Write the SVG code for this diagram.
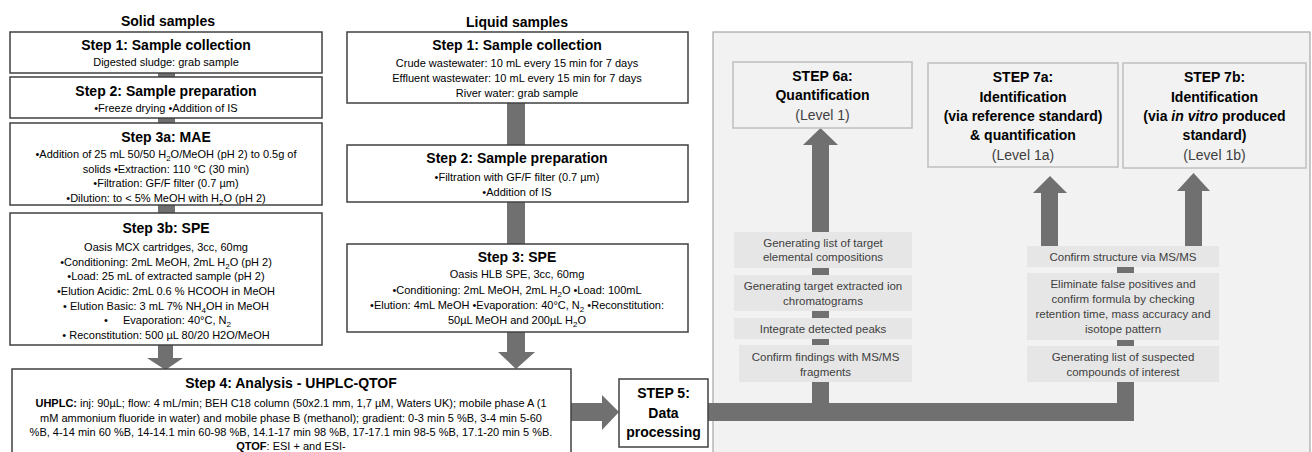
<svg xmlns="http://www.w3.org/2000/svg" width="1312" height="452" viewBox="0 0 1312 452">
<style>
.box{fill:#fff;stroke:#404040;stroke-width:1.5}
.t{font-family:'Liberation Sans',Arial,sans-serif;text-anchor:middle;fill:#000}
.s{text-anchor:start}
.h{font-size:14px;font-weight:bold}
.b{font-size:11px}
.pbox{fill:#f2f2f2;stroke:#bfbfbf;stroke-width:1.5}
.lbox{fill:#e6e6e6}
.lt{font-size:11.5px;fill:#404040}
.lv{font-size:14px;fill:#404040}
.conn{fill:#707070}
</style>
<rect width="1312" height="452" fill="#fff"/>
<g id="panel">
<rect x="713" y="32" width="597" height="440" fill="#f2f2f2" stroke="#a6a6a6" stroke-width="1.2"/>
</g>
<g id="headings">
<text class="t h" x="168" y="26">Solid samples</text>
<text class="t h" x="517" y="27">Liquid samples</text>
</g>
<g id="connectors">
<rect class="conn" x="158" y="73" width="17" height="4"/>
<rect class="conn" x="158" y="118" width="17" height="5"/>
<rect class="conn" x="158" y="205" width="17" height="8"/>
<polygon class="conn" points="158,345 173,345 173,358 183,358 165.5,370 147,358 158,358"/>
<rect class="conn" x="507" y="103" width="18" height="42"/>
<rect class="conn" x="507" y="202" width="18" height="42"/>
<polygon class="conn" points="507,332 525,332 525,352 535,352 516,369 498,352 507,352"/>
<polygon class="conn" points="571,403 602,403 602,395 619,412 602,430 602,421 571,421"/>
<polygon class="conn" points="708,403 1117,403 1117,382 1134,382 1134,421 708,421"/>
<rect class="conn" x="812" y="145" width="17" height="260"/>
<polygon class="conn" points="803,145 820.5,128 838,145"/>
<rect class="conn" x="1041" y="192" width="17" height="56"/>
<polygon class="conn" points="1033,193 1050,176 1067,193"/>
<rect class="conn" x="1185" y="190" width="17" height="58"/>
<polygon class="conn" points="1177,191 1193.5,173 1210,191"/>
<rect class="conn" x="1117" y="265" width="17" height="120"/>
</g>
<g id="solid-step1">
<rect class="box" x="10" y="32" width="312" height="41"/>
<text class="t h" x="166" y="50">Step 1: Sample collection</text>
<text class="t b" x="166" y="66">Digested sludge: grab sample</text>
</g>
<g id="solid-step2">
<rect class="box" x="10" y="77" width="312" height="41"/>
<text class="t h" x="166" y="96">Step 2: Sample preparation</text>
<text class="t b" x="166" y="112">•Freeze drying •Addition of IS</text>
</g>
<g id="solid-step3a">
<rect class="box" x="10" y="123" width="312" height="82"/>
<text class="t h" x="166" y="142">Step 3a: MAE</text>
<text class="t b" x="166" y="158">•Addition of 25 mL 50/50 H<tspan font-size="8" dy="3">2</tspan><tspan dy="-3">O/MeOH (pH 2) to 0.5g of</tspan></text>
<text class="t b" x="166" y="173">solids •Extraction: 110 °C (30 min)</text>
<text class="t b" x="166" y="187">•Filtration: GF/F filter (0.7 µm)</text>
<text class="t b" x="166" y="202">•Dilution: to &lt; 5% MeOH with H<tspan font-size="8" dy="3">2</tspan><tspan dy="-3">O (pH 2)</tspan></text>
</g>
<g id="solid-step3b">
<rect class="box" x="10" y="213" width="312" height="132"/>
<text class="t h" x="166" y="233">Step 3b: SPE</text>
<text class="t b" x="166" y="251">Oasis  MCX cartridges, 3cc, 60mg</text>
<text class="t b" x="166" y="266">•Conditioning: 2mL MeOH, 2mL H<tspan font-size="8" dy="3">2</tspan><tspan dy="-3">O (pH 2)</tspan></text>
<text class="t b" x="166" y="280">•Load: 25 mL of extracted sample (pH 2)</text>
<text class="t b" x="166" y="295">•Elution Acidic: 2mL 0.6 % HCOOH in MeOH</text>
<text class="t b" x="166" y="310">• Elution Basic: 3 mL 7% NH<tspan font-size="8" dy="3">4</tspan><tspan dy="-3">OH in MeOH</tspan></text>
<text class="t b s" x="104" y="324">•</text>
<text class="t b s" x="123" y="324">Evaporation: 40°C, N<tspan font-size="8" dy="3">2</tspan></text>
<text class="t b" x="166" y="339">• Reconstitution: 500 µL 80/20 H2O/MeOH</text>
</g>
<g id="liquid-step1">
<rect class="box" x="347" y="32" width="341" height="71"/>
<text class="t h" x="517" y="50">Step 1: Sample collection</text>
<text class="t b" x="517" y="67">Crude wastewater: 10 mL every 15 min for 7 days</text>
<text class="t b" x="517" y="82">Effluent wastewater: 10 mL every 15 min for 7 days</text>
<text class="t b" x="517" y="97">River water: grab sample</text>
</g>
<g id="liquid-step2">
<rect class="box" x="347" y="145" width="341" height="57"/>
<text class="t h" x="517" y="163">Step 2: Sample preparation</text>
<text class="t b" x="517" y="181">•Filtration with GF/F filter (0.7 µm)</text>
<text class="t b" x="517" y="196">•Addition of IS</text>
</g>
<g id="liquid-step3">
<rect class="box" x="347" y="244" width="341" height="88"/>
<text class="t h" x="517" y="262">Step 3: SPE</text>
<text class="t b" x="517" y="278">Oasis HLB SPE, 3cc, 60mg</text>
<text class="t b" x="517" y="294">•Conditioning: 2mL MeOH, 2mL H<tspan font-size="8" dy="3">2</tspan><tspan dy="-3">O •Load: 100mL</tspan></text>
<text class="t b" x="517" y="309">•Elution: 4mL MeOH •Evaporation: 40°C, N<tspan font-size="8" dy="3">2</tspan><tspan dy="-3"> •Reconstitution:</tspan></text>
<text class="t b" x="517" y="324">50µL MeOH and 200µL H<tspan font-size="8" dy="3">2</tspan><tspan dy="-3">O</tspan></text>
</g>
<g id="step4">
<rect class="box" x="12" y="369" width="559" height="95"/>
<text class="t h" x="291" y="388">Step 4: Analysis - UHPLC-QTOF</text>
<text class="t b" x="291" y="407"><tspan font-weight="bold">UHPLC:</tspan> inj: 90µL; flow: 4 mL/min; BEH C18 column (50x2.1 mm, 1,7 µM, Waters UK); mobile phase A (1</text>
<text class="t b" x="291" y="422">mM ammonium fluoride in water) and mobile phase B (methanol); gradient: 0-3 min 5 %B, 3-4 min 5-60</text>
<text class="t b" x="291" y="436">%B, 4-14 min 60 %B, 14-14.1 min 60-98 %B, 14.1-17 min 98 %B, 17-17.1 min 98-5 %B, 17.1-20 min 5 %B.</text>
<text class="t b" x="291" y="450"><tspan font-weight="bold">QTOF</tspan>: ESI + and ESI-</text>
</g>
<g id="step5">
<rect class="box" x="619" y="379" width="89" height="68"/>
<text class="t h" x="663.5" y="398">STEP 5:</text>
<text class="t h" x="663.5" y="418">Data</text>
<text class="t h" x="663.5" y="437">processing</text>
</g>
<g id="step6a">
<rect class="pbox" x="733" y="62" width="179" height="66"/>
<text class="t h" x="822.5" y="81">STEP 6a:</text>
<text class="t h" x="822.5" y="100">Quantification</text>
<text class="t lv" x="822.5" y="120">(Level 1)</text>
</g>
<g id="step7a">
<rect class="pbox" x="928" y="63" width="190" height="104"/>
<text class="t h" x="1023" y="82">STEP 7a:</text>
<text class="t h" x="1023" y="102">Identification</text>
<text class="t h" x="1023" y="121">(via reference standard)</text>
<text class="t h" x="1023" y="140">&amp; quantification</text>
<text class="t lv" x="1023" y="160">(Level 1a)</text>
</g>
<g id="step7b">
<rect class="pbox" x="1123" y="63" width="183" height="105"/>
<text class="t h" x="1214.5" y="82">STEP 7b:</text>
<text class="t h" x="1214.5" y="102">Identification</text>
<text class="t h" x="1214.5" y="121">(via <tspan font-style="italic">in vitro</tspan> produced</text>
<text class="t h" x="1214.5" y="140">standard)</text>
<text class="t lv" x="1214.5" y="160">(Level 1b)</text>
</g>
<g id="list-target-1">
<rect class="lbox" x="734" y="232" width="178" height="36"/>
<text class="t lt" x="823" y="247">Generating list of target</text>
<text class="t lt" x="823" y="261">elemental compositions</text>
</g>
<g id="list-target-2">
<rect class="lbox" x="734" y="275" width="178" height="36"/>
<text class="t lt" x="823" y="290">Generating target extracted ion</text>
<text class="t lt" x="823" y="305">chromatograms</text>
</g>
<g id="list-target-3">
<rect class="lbox" x="734" y="318" width="178" height="21"/>
<text class="t lt" x="823" y="333">Integrate detected peaks</text>
</g>
<g id="list-target-4">
<rect class="lbox" x="739" y="345" width="173" height="37"/>
<text class="t lt" x="825.5" y="361">Confirm findings with MS/MS</text>
<text class="t lt" x="825.5" y="376">fragments</text>
</g>
<g id="list-suspect-1">
<rect class="lbox" x="1027" y="246" width="192" height="21"/>
<text class="t lt" x="1123" y="261">Confirm structure via MS/MS</text>
</g>
<g id="list-suspect-2">
<rect class="lbox" x="1027" y="273" width="192" height="67"/>
<text class="t lt" x="1123" y="288">Eliminate false positives and</text>
<text class="t lt" x="1123" y="303">confirm formula by checking</text>
<text class="t lt" x="1123" y="318">retention time, mass accuracy and</text>
<text class="t lt" x="1123" y="333">isotope pattern</text>
</g>
<g id="list-suspect-3">
<rect class="lbox" x="1027" y="346" width="192" height="36"/>
<text class="t lt" x="1123" y="361">Generating list of suspected</text>
<text class="t lt" x="1123" y="376">compounds of interest</text>
</g>
</svg>
